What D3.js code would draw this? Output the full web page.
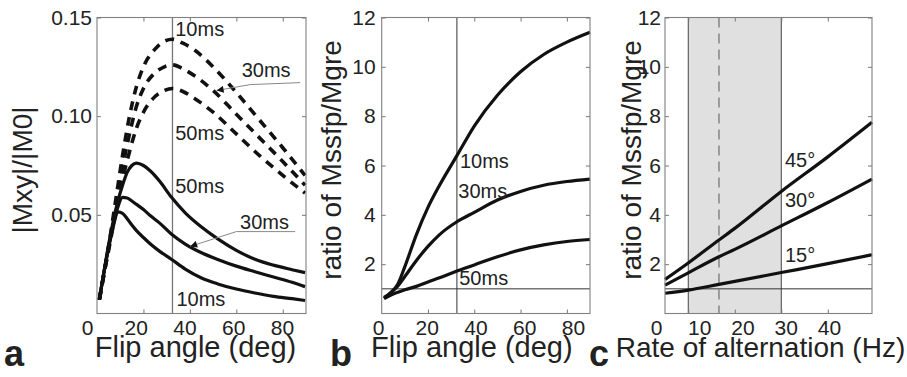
<!DOCTYPE html>
<html>
<head>
<meta charset="utf-8">
<title>Mxy and signal ratio</title>
<script src="https://cdn.jsdelivr.net/npm/d3@7"></script>
<style>
  body { margin: 0; background: #fff; }
  text { font-family: "Liberation Sans", Arial, sans-serif; fill: #222; }
</style>
</head>
<body>
<div id="fig"></div>
<script>
// ---- panel a : |Mxy|/|M0| against flip angle
var angleGre = [1, 3, 5, 7, 9, 11, 13, 15, 17, 20, 23, 27, 32, 38, 45, 52, 60, 68, 76, 84, 89.6];
var gre10 = [0.007, 0.021, 0.033, 0.044, 0.0515, 0.0508, 0.048, 0.0448, 0.042, 0.0385, 0.0352, 0.0315, 0.0275, 0.0225, 0.018, 0.015, 0.0124, 0.0104, 0.0087, 0.0075, 0.0066];
var gre30 = [0.007, 0.021, 0.034, 0.045, 0.054, 0.0588, 0.0585, 0.057, 0.0553, 0.0527, 0.0495, 0.0458, 0.0403, 0.0352, 0.0308, 0.0274, 0.024, 0.0212, 0.0185, 0.0158, 0.0136];
var gre50 = [0.007, 0.021, 0.035, 0.047, 0.057, 0.065, 0.0715, 0.075, 0.0762, 0.075, 0.0722, 0.067, 0.059, 0.051, 0.0438, 0.0378, 0.032, 0.0275, 0.0245, 0.0222, 0.0207];

var angleSsfp = [1, 3, 5, 8, 11, 14, 17, 20, 25, 29, 32.5, 37, 42, 50, 60, 70, 80, 89.6];
var ssfp10 = [0.007, 0.02, 0.034, 0.057, 0.08, 0.1, 0.115, 0.125, 0.134, 0.138, 0.139, 0.137, 0.1335, 0.125, 0.112, 0.098, 0.084, 0.07];
var ssfp30 = [0.007, 0.02, 0.033, 0.054, 0.074, 0.091, 0.105, 0.114, 0.122, 0.125, 0.126, 0.124, 0.1205, 0.113, 0.101, 0.089, 0.077, 0.065];
var ssfp50 = [0.007, 0.02, 0.032, 0.051, 0.068, 0.082, 0.094, 0.102, 0.11, 0.113, 0.114, 0.1125, 0.109, 0.102, 0.091, 0.08, 0.07, 0.061];

// ---- panel b : ratio against flip angle
var angleRatio = [1, 4, 7, 10, 15, 20, 25, 32.5, 40, 50, 60, 70, 80, 90];
var ratio10 = [0.65, 0.85, 1.2, 1.9, 3.2, 4.3, 5.2, 6.4, 7.6, 8.85, 9.8, 10.5, 11.0, 11.4];
var ratio30 = [0.62, 0.85, 1.12, 1.5, 2.15, 2.72, 3.2, 3.72, 4.1, 4.6, 4.95, 5.2, 5.35, 5.45];
var ratio50 = [0.6, 0.75, 0.86, 0.96, 1.1, 1.28, 1.45, 1.72, 1.97, 2.3, 2.58, 2.78, 2.92, 3.0];

// ---- panel c : ratio against rate of alternation
var rateHz = [5, 10, 16.6, 20, 30, 40, 49.5];
var deg45 = [1.38, 2.05, 2.98, 3.45, 4.95, 6.35, 7.75];
var deg30 = [1.15, 1.65, 2.3, 2.6, 3.55, 4.5, 5.45];
var deg15 = [0.82, 0.95, 1.18, 1.3, 1.66, 2.02, 2.38];
var bandHz = [10, 30];
var dashedHz = 16.6;
var markerAngle = 32.5;

// ticks
var ticksA = [0.05, 0.10, 0.15];
var ticksRatio = [2, 4, 6, 8, 10, 12];
var xTicksAngle = [20, 40, 60, 80];
var xTicksRate = [10, 20, 30, 40];
var xLabelsRate = [0, 10, 20, 30, 40];

var W = 907, H = 377;
var plotTop = 17.5, plotBottom = 313.5;

var svg = d3.select("#fig").append("svg")
  .attr("width", W).attr("height", H);

function translate(x, y) {
  return "translate(" + x + "," + y + ")";
}

function panel(p) {
  var x = d3.scaleLinear().domain(p.xDomain).range([p.left, p.right]);
  var y = d3.scaleLinear().domain(p.yDomain).range([plotBottom, plotTop]);
  var g = svg.append("g");
  var back = g.append("g");
  var marks = g.append("g");
  var axes = g.append("g");

  function tidy(sel) {
    sel.select(".domain").remove();
    sel.selectAll(".tick line").attr("stroke", "#777");
    sel.selectAll("text").attr("font-size", 21).attr("fill", "#222")
      .attr("font-family", "Liberation Sans, Arial, sans-serif");
  }

  axes.append("g").attr("transform", translate(0, plotBottom))
    .call(d3.axisBottom(x).tickValues(p.xTicks).tickSize(-4).tickFormat(""))
    .call(tidy);
  axes.append("g").attr("transform", translate(0, plotTop))
    .call(d3.axisTop(x).tickValues(p.xTicks).tickSize(-4).tickFormat(""))
    .call(tidy);
  // tick labels sit a little off the tick marks in the original
  var lx = d3.scaleLinear().domain(p.labelDomain).range(p.labelRange);
  axes.append("g").attr("transform", translate(0, plotBottom))
    .call(d3.axisBottom(lx).tickValues(p.xLabels).tickSize(0).tickPadding(7))
    .call(tidy);
  axes.append("g").attr("transform", translate(p.left, 0))
    .call(d3.axisLeft(y).tickValues(p.yTicks).tickSize(-4).tickPadding(p.yPad).tickFormat(p.yFormat))
    .call(tidy);
  axes.append("g").attr("transform", translate(p.right, 0))
    .call(d3.axisRight(y).tickValues(p.yTicks).tickSize(-4).tickFormat(""))
    .call(tidy);
  axes.append("rect")
    .attr("x", p.left).attr("y", plotTop)
    .attr("width", p.right - p.left).attr("height", plotBottom - plotTop)
    .attr("fill", "none").attr("stroke", "#808080").attr("stroke-width", 1.1);

  axes.append("text").text(p.xTitle)
    .attr("x", (p.left + p.right) / 2 + p.xTitleShift).attr("y", 357)
    .attr("text-anchor", "middle").attr("font-size", p.xTitleSize);
  axes.append("text").text(p.yTitle)
    .attr("text-anchor", "middle").attr("font-size", 28)
    .attr("transform", translate(p.yTitleX, p.yTitleY) + " rotate(-90)");
  axes.append("text").text(p.letter)
    .attr("x", p.letterX).attr("y", 366)
    .attr("font-size", 36).attr("font-weight", "bold").attr("fill", "#111");

  return { x: x, y: y, back: back, marks: marks, axes: axes };
}

function drawCurve(pn, xs, ys, dashed, curve) {
  var line = d3.line()
    .x(function(d) { return pn.x(d[0]); })
    .y(function(d) { return pn.y(d[1]); })
    .curve(curve || d3.curveMonotoneX);
  pn.marks.append("path")
    .datum(xs.map(function(v, i) { return [v, ys[i]]; }))
    .attr("d", line)
    .attr("fill", "none")
    .attr("stroke", "#111")
    .attr("stroke-width", dashed ? 3.6 : 3.2)
    .attr("stroke-dasharray", dashed ? "9,7" : null)
    .attr("stroke-linejoin", "round");
}

function label(pn, txt, xv, yv) {
  pn.axes.append("text").text(txt)
    .attr("x", pn.x(xv)).attr("y", pn.y(yv))
    .attr("font-size", 20);
}

function vline(pn, xv, color, width, dash) {
  pn.back.append("line")
    .attr("x1", pn.x(xv)).attr("x2", pn.x(xv))
    .attr("y1", plotTop).attr("y2", plotBottom)
    .attr("stroke", color).attr("stroke-width", width)
    .attr("stroke-dasharray", dash || null);
}

function hline(pn, yv) {
  var d = pn.x.domain();
  pn.back.append("line")
    .attr("x1", pn.x(d[0])).attr("x2", pn.x(d[1]))
    .attr("y1", pn.y(yv)).attr("y2", pn.y(yv))
    .attr("stroke", "#333").attr("stroke-width", 1);
}

svg.append("defs").append("marker")
  .attr("id", "head").attr("viewBox", "0 0 10 10")
  .attr("refX", 10).attr("refY", 5)
  .attr("markerWidth", 10).attr("markerHeight", 7)
  .attr("markerUnits", "userSpaceOnUse")
  .attr("orient", "auto")
  .append("path").attr("d", "M0,0L10,5L0,10Z").attr("fill", "#111");

function arrow(pn, pts) {
  pn.axes.append("path")
    .datum(pts)
    .attr("d", d3.line().x(function(d) { return pn.x(d[0]); }).y(function(d) { return pn.y(d[1]); }))
    .attr("fill", "none").attr("stroke", "#888").attr("stroke-width", 1)
    .attr("marker-end", "url(#head)");
}

// ---------- panel a
var pa = panel({
  left: 97, right: 306, xDomain: [0, 90], yDomain: [0, 0.15],
  xTicks: xTicksAngle, xLabels: [0].concat(xTicksAngle),
  labelDomain: [0, 80], labelRange: [87, 282],
  yTicks: ticksA, yPad: 5, yFormat: d3.format(".2f"),
  xTitle: "Flip angle (deg)", xTitleShift: -6, xTitleSize: 29,
  yTitle: "|Mxy|/|M0|", yTitleX: 32, yTitleY: 170,
  letter: "a", letterX: 4
});
vline(pa, markerAngle, "#777", 1.3);
drawCurve(pa, angleSsfp, ssfp10, true);
drawCurve(pa, angleSsfp, ssfp30, true);
drawCurve(pa, angleSsfp, ssfp50, true);
drawCurve(pa, angleGre, gre10, false);
drawCurve(pa, angleGre, gre30, false);
drawCurve(pa, angleGre, gre50, false);
label(pa, "10ms", 33.7, 0.1404);
label(pa, "30ms", 62.3, 0.1197);
label(pa, "50ms", 33.7, 0.0879);
label(pa, "50ms", 33.7, 0.0613);
label(pa, "30ms", 61.6, 0.0427);
label(pa, "10ms", 34.2, 0.0038);
arrow(pa, [[87.5, 0.117], [66, 0.116], [51.5, 0.113]]);
arrow(pa, [[85.3, 0.0415], [60, 0.0415], [40.1, 0.034]]);

// ---------- panel b
var pb = panel({
  left: 381.7, right: 590, xDomain: [0, 90], yDomain: [0, 12],
  xTicks: xTicksAngle, xLabels: [0].concat(xTicksAngle),
  labelDomain: [0, 80], labelRange: [378, 573],
  yTicks: ticksRatio, yPad: 6, yFormat: d3.format("d"),
  xTitle: "Flip angle (deg)", xTitleShift: -14, xTitleSize: 29,
  yTitle: "ratio of Mssfp/Mgre", yTitleX: 341, yTitleY: 160,
  letter: "b", letterX: 330
});
vline(pb, markerAngle, "#333", 1);
hline(pb, 1);
drawCurve(pb, angleRatio, ratio10, false);
drawCurve(pb, angleRatio, ratio30, false);
drawCurve(pb, angleRatio, ratio50, false);
label(pb, "10ms", 33.8, 5.91);
label(pb, "30ms", 33.1, 4.69);
label(pb, "50ms", 33.5, 1.16);

// ---------- panel c
var pc = panel({
  left: 665, right: 872, xDomain: [5, 49.5], yDomain: [0, 12],
  xTicks: xTicksRate, xLabels: xLabelsRate,
  labelDomain: [0, 40], labelRange: [656, 829],
  yTicks: ticksRatio, yPad: 4, yFormat: d3.format("d"),
  xTitle: "Rate of alternation (Hz)", xTitleShift: -8, xTitleSize: 28,
  yTitle: "ratio of Mssfp/Mgre", yTitleX: 641, yTitleY: 160,
  letter: "c", letterX: 589
});
pc.back.append("rect")
  .attr("x", pc.x(bandHz[0])).attr("y", plotTop)
  .attr("width", pc.x(bandHz[1]) - pc.x(bandHz[0]))
  .attr("height", plotBottom - plotTop)
  .attr("fill", "#e0e0e0");
vline(pc, bandHz[0], "#444", 1);
vline(pc, bandHz[1], "#444", 1);
vline(pc, dashedHz, "#777", 1.3, "10,6");
hline(pc, 1);
drawCurve(pc, rateHz, deg45, false);
drawCurve(pc, rateHz, deg30, false);
drawCurve(pc, rateHz, deg15, false);
label(pc, "45°", 30.8, 5.95);
label(pc, "30°", 30.8, 4.33);
label(pc, "15°", 30.8, 2.1);
</script>
</body>
</html>
